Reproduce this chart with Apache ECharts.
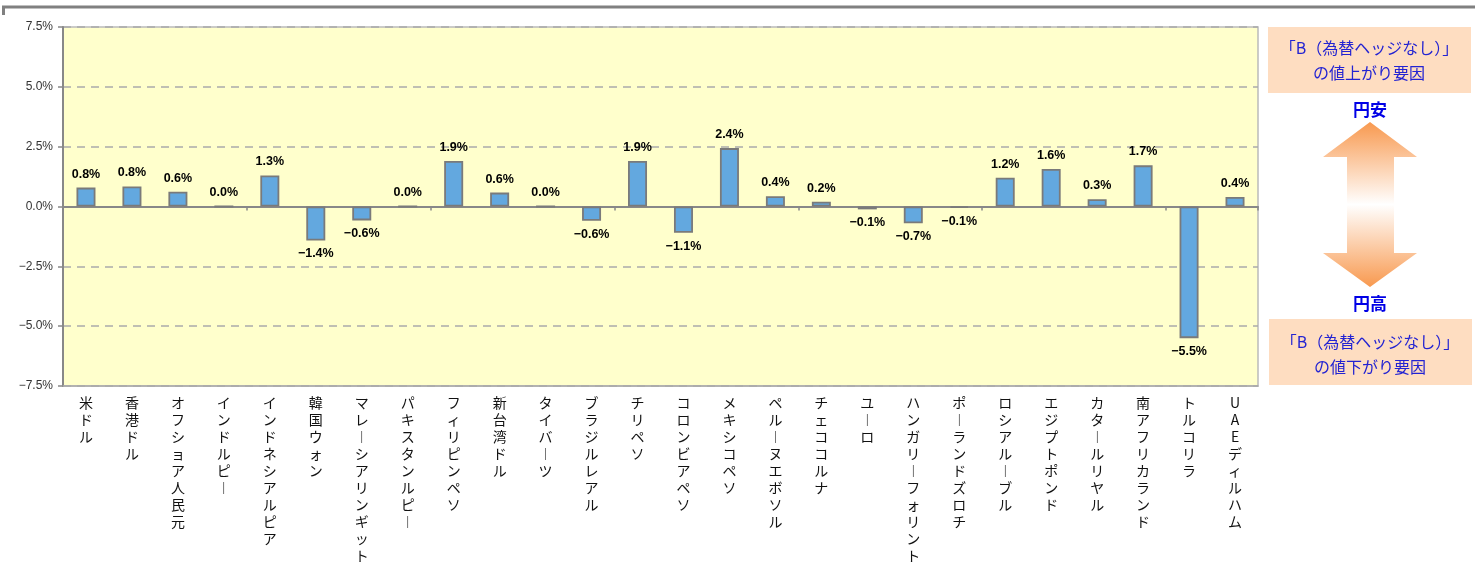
<!DOCTYPE html>
<html><head><meta charset="utf-8">
<script src="https://cdn.jsdelivr.net/npm/echarts@6/dist/echarts.min.js"></script>
<style>html,body{margin:0;padding:0;background:#fff}#c{width:1475px;height:583px}</style>
</head><body><div id="c"></div>
<script>
const categories = ['米ドル','香港ドル','オフショア人民元','インドルピー','インドネシアルピア','韓国ウォン','マレーシアリンギット','パキスタンルピー','フィリピンペソ','新台湾ドル','タイバーツ','ブラジルレアル','チリペソ','コロンビアペソ','メキシコペソ','ペルーヌエボソル','チェココルナ','ユーロ','ハンガリーフォリント','ポーランドズロチ','ロシアルーブル','エジプトポンド','カタールリヤル','南アフリカランド','トルコリラ','UAEディルハム'];
const values = [0.79, 0.84, 0.62, 0, 1.3, -1.42, -0.58, 0, 1.9, 0.58, 0, -0.6, 1.9, -1.1, 2.44, 0.43, 0.2, -0.12, -0.7, -0.06, 1.2, 1.57, 0.3, 1.72, -5.5, 0.4];
const yMin = -7.5, yMax = 7.5, yStep = 2.5;
const noteTop = ['「B（為替ヘッジなし）」', 'の値上がり要因'];
const noteBottom = ['「B（為替ヘッジなし）」', 'の値下がり要因'];
const yenWeak = '円安', yenStrong = '円高';

const fmtPct = v => (v.toFixed(1) + '%').replace('-', '−');
const vert = s => s.split('').map(ch => ch === 'ー' ? '︱' : ch).join('\n');

const chart = echarts.init(document.getElementById('c'), null, {renderer: 'canvas'});
const blue = '#2323D2';
const arrowGrad = new echarts.graphic.LinearGradient(0, 0, 0, 1, [
  {offset: 0, color: '#F8994F'}, {offset: 0.5, color: '#FFFFFF'}, {offset: 1, color: '#F8994F'}
]);
chart.setOption({
  animation: false,
  backgroundColor: '#fff',
  grid: {left: 63, right: 217, top: 27, bottom: 197, show: true, backgroundColor: '#FFFFCC', borderColor: '#BBBBBB', borderWidth: 1.5},
  xAxis: [{
    type: 'category', data: categories, position: 'bottom',
    axisLine: {onZero: false, lineStyle: {color: '#AAAAAA', width: 1.5}},
    axisTick: {show: false},
    axisLabel: {interval: 0, hideOverlap: false, margin: 8, color: '#111', fontSize: 14, lineHeight: 17,
      fontFamily: '"Noto Sans CJK JP", sans-serif', formatter: v => vert(v)}
  }, {
    type: 'category', data: categories, position: 'bottom',
    axisLine: {onZero: true, lineStyle: {color: '#888888', width: 2}},
    axisTick: {show: true, length: 4, lineStyle: {color: '#888888', width: 1.5}},
    axisLabel: {show: false}
  }],
  yAxis: {
    type: 'value', min: yMin, max: yMax, interval: yStep,
    axisLine: {show: true, lineStyle: {color: '#888888', width: 2}},
    axisTick: {show: true, length: 5, lineStyle: {color: '#888888', width: 1.5}},
    axisLabel: {margin: 10, color: '#333', fontSize: 12, fontFamily: 'Arial, "Liberation Sans", sans-serif', formatter: v => fmtPct(v)},
    splitLine: {show: true, lineStyle: {color: '#AAAAAA', width: 1.5, type: [8, 6]}}
  },
  series: [{
    type: 'bar', xAxisIndex: 0, barWidth: 19,
    itemStyle: {color: '#63A8DF', borderColor: '#7A7A7A', borderWidth: 1.8},
    data: values.map(v => ({value: v, label: {position: v < 0 ? 'bottom' : 'top'}})),
    label: {show: true, distance: 7, color: '#000', fontSize: 12.5, fontWeight: 'bold',
      fontFamily: 'Arial, "Liberation Sans", sans-serif', formatter: p => fmtPct(p.value)}
  }],
  graphic: [
    {type: 'line', shape: {x1: 2, y1: 7, x2: 1475, y2: 7}, style: {stroke: '#808080', lineWidth: 3}},
    {type: 'line', shape: {x1: 3.5, y1: 6, x2: 3.5, y2: 15}, style: {stroke: '#808080', lineWidth: 3}},
    {type: 'rect', shape: {x: 1268, y: 27, width: 203, height: 66}, style: {fill: '#FEDDC1'}},
    {type: 'text', style: {text: noteTop[0], x: 1369, y: 48, align: 'center', verticalAlign: 'middle', fill: blue, font: '16px "Noto Sans CJK JP"'}},
    {type: 'text', style: {text: noteTop[1], x: 1369, y: 73, align: 'center', verticalAlign: 'middle', fill: blue, font: '16px "Noto Sans CJK JP"'}},
    {type: 'text', style: {text: yenWeak, x: 1370, y: 110, align: 'center', verticalAlign: 'middle', fill: '#0000E6', font: 'bold 17px "Noto Sans CJK JP"'}},
    {type: 'polygon', shape: {points: [[1370,122],[1417,157],[1394,157],[1394,253],[1417,253],[1370,287],[1323,253],[1347,253],[1347,157],[1323,157]]}, style: {fill: arrowGrad}},
    {type: 'text', style: {text: yenStrong, x: 1370, y: 304, align: 'center', verticalAlign: 'middle', fill: '#0000E6', font: 'bold 17px "Noto Sans CJK JP"'}},
    {type: 'rect', shape: {x: 1269, y: 319, width: 203, height: 66}, style: {fill: '#FEDDC1'}},
    {type: 'text', style: {text: noteBottom[0], x: 1370, y: 342, align: 'center', verticalAlign: 'middle', fill: blue, font: '16px "Noto Sans CJK JP"'}},
    {type: 'text', style: {text: noteBottom[1], x: 1370, y: 367, align: 'center', verticalAlign: 'middle', fill: blue, font: '16px "Noto Sans CJK JP"'}}
  ]
});
</script></body></html>
